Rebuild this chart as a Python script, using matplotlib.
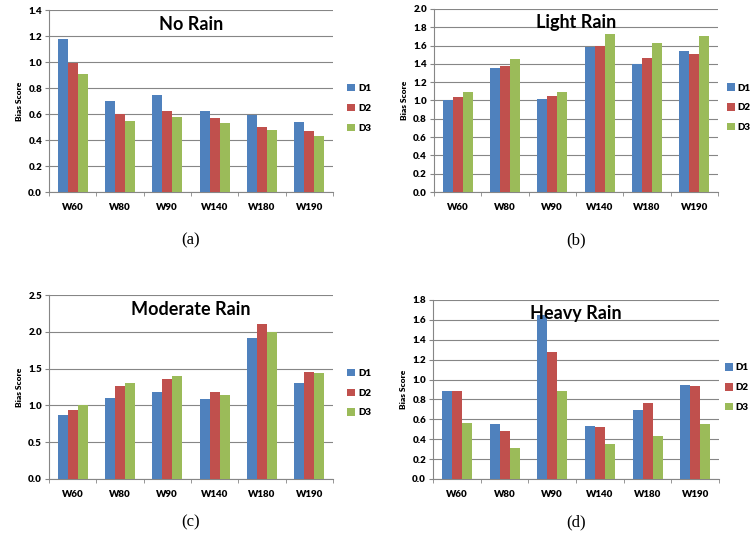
import numpy as np
import matplotlib.pyplot as plt

stations = ["W60", "W80", "W90", "W140", "W180", "W190"]
series = ["D1", "D2", "D3"]
colors = ["#4F81BD", "#C0504D", "#9BBB59"]

no_rain_d1 = [1.18, 0.70, 0.75, 0.62, 0.59, 0.54]
no_rain_d2 = [0.99, 0.60, 0.62, 0.57, 0.50, 0.47]
no_rain_d3 = [0.91, 0.55, 0.58, 0.53, 0.48, 0.43]

light_d1 = [1.00, 1.36, 1.02, 1.58, 1.40, 1.54]
light_d2 = [1.04, 1.38, 1.05, 1.59, 1.46, 1.51]
light_d3 = [1.09, 1.45, 1.09, 1.73, 1.63, 1.70]

moderate_d1 = [0.87, 1.10, 1.18, 1.09, 1.92, 1.30]
moderate_d2 = [0.94, 1.26, 1.36, 1.18, 2.10, 1.46]
moderate_d3 = [1.00, 1.30, 1.40, 1.14, 2.00, 1.44]

heavy_d1 = [0.88, 0.55, 1.65, 0.53, 0.69, 0.95]
heavy_d2 = [0.88, 0.48, 1.28, 0.52, 0.76, 0.93]
heavy_d3 = [0.56, 0.31, 0.88, 0.35, 0.43, 0.55]

# title, series, y max, y step, caption, axes rect, legend x, legend y, caption offset
panels = [
    ("No Rain", [no_rain_d1, no_rain_d2, no_rain_d3], 1.4, 0.2, "(a)",
     [0.0648, 0.6444, 0.3757, 0.337], 1.02, 0.46, 0.09),
    ("Light Rain", [light_d1, light_d2, light_d3], 2.0, 0.2, "(b)",
     [0.574, 0.6444, 0.3757, 0.339], 1.0, 0.46, 0.09),
    ("Moderate Rain", [moderate_d1, moderate_d2, moderate_d3], 2.5, 0.5, "(c)",
     [0.0648, 0.113, 0.3757, 0.3407], 1.02, 0.467, 0.08),
    ("Heavy Rain", [heavy_d1, heavy_d2, heavy_d3], 1.8, 0.2, "(d)",
     [0.5728, 0.113, 0.3783, 0.3315], 0.99, 0.51, 0.08),
]

plt.rcParams['font.family'] = ['Lato', 'DejaVu Sans']
fig = plt.figure(figsize=(7.56, 5.4), dpi=100)

x = np.arange(len(stations))
w = 0.21
for title, data, ymax, step, tag, pos, leg_x, leg_y, cap in panels:
    ax = fig.add_axes(pos)
    for i, vals in enumerate(data):
        ax.bar(x + (i - 1) * w, vals, w, color=colors[i], label=series[i], zorder=3)
    ax.set_xlim(-0.5, len(stations) - 0.5)
    ax.set_ylim(0, ymax)
    yt = np.arange(0, ymax + step / 2, step)
    ax.set_yticks(yt)
    ax.set_yticklabels([f"{v:.1f}" for v in yt])
    ax.set_xticks(x)
    ax.set_xticklabels(stations)
    ax.set_xticks(np.arange(-0.5, len(stations)), minor=True)
    ax.tick_params(axis='x', which='major', length=0, pad=8, labelsize=7)
    ax.tick_params(axis='x', which='minor', length=3, color='#868686')
    ax.tick_params(axis='y', length=3, color='#868686', labelsize=7, pad=2)
    for lbl in ax.get_xticklabels() + ax.get_yticklabels():
        lbl.set_fontweight('heavy')
    ax.grid(axis='y', color='#868686', linewidth=0.8, zorder=0)
    for s in ['top', 'right']:
        ax.spines[s].set_visible(False)
    for s in ['left', 'bottom']:
        ax.spines[s].set_color('#868686')
    ax.set_ylabel("Bias Score", fontsize=6, fontweight='heavy', labelpad=4)
    ax.text(0.5, 0.97, title, transform=ax.transAxes, ha='center', va='top',
            fontsize=13, fontweight='bold')
    ax.legend(loc='center left', bbox_to_anchor=(leg_x, leg_y), frameon=False,
              handlelength=0.8, handleheight=0.8, handletextpad=0.3,
              labelspacing=1.1, prop={'size': 7, 'weight': 'heavy'})
    fig.text(pos[0] + pos[2] / 2, pos[1] - cap, tag, ha='center', va='center',
             fontsize=12, family='Liberation Serif')

fig.savefig("out.png", dpi=100)
